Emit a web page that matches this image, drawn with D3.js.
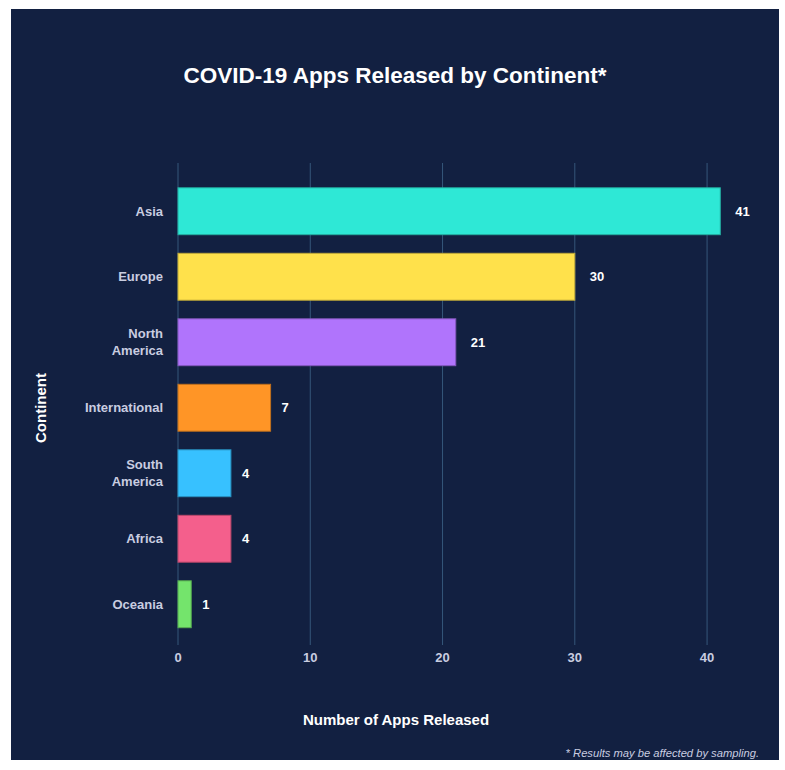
<!DOCTYPE html>
<html><head><meta charset="utf-8">
<script src="https://cdn.jsdelivr.net/npm/d3@7"></script>
<style>
html,body{margin:0;padding:0;background:#fff;}
svg{display:block;font-family:"Liberation Sans",Arial,Helvetica,sans-serif;}
</style></head>
<body>
<svg id="chart" width="785" height="770"></svg>
<script>
const categories = ["Asia","Europe","North America","International","South America","Africa","Oceania"];
const values = [41,30,21,7,4,4,1];
const barColors = ["#2ee8d6","#ffe14b","#b074fc","#ff9526","#37c1ff","#f45f8c","#74e46c"];
const tickValues = [0,10,20,30,40];
const labelLines = {"North America":["North","America"],"South America":["South","America"]};

const svg = d3.select("#chart");
svg.append("rect").attr("x",11).attr("y",9).attr("width",768).attr("height",751).attr("fill","#122041");

const x = d3.scaleLinear().domain([0,41]).range([178,720.3]);
const y = d3.scaleBand().domain(categories).range([178.5,637]).paddingInner(0.284).paddingOuter(0.142);

// gridlines
svg.append("g").selectAll("line").data(tickValues).join("line")
  .attr("x1",d=>x(d)).attr("x2",d=>x(d)).attr("y1",163).attr("y2",645)
  .attr("stroke","#35567a").attr("stroke-width",1);

// tick labels
svg.append("g").selectAll("text").data(tickValues).join("text")
  .attr("x",d=>x(d)).attr("y",662).attr("text-anchor","middle")
  .attr("fill","#c9cde0").attr("font-size",13).attr("font-weight","bold").text(d=>d);

// bars
const data = categories.map((c,i)=>({c,v:values[i],col:barColors[i]}));
svg.append("g").selectAll("rect").data(data).join("rect")
  .attr("x",x(0)).attr("y",d=>y(d.c)).attr("width",d=>x(d.v)-x(0)).attr("height",y.bandwidth())
  .attr("fill",d=>d.col).attr("stroke",d=>d3.color(d.col).darker(0.8)).attr("stroke-width",1);

// value labels
svg.append("g").selectAll("text").data(data).join("text")
  .attr("x",d=>x(d.v)+(String(d.v).length>1?15:11)).attr("y",d=>y(d.c)+y.bandwidth()/2).attr("dy","0.35em")
  .attr("fill","#ffffff").attr("font-size",13).attr("font-weight","bold").text(d=>d.v);

// category labels
const cl = svg.append("g").selectAll("text").data(data).join("text")
  .attr("x",163).attr("y",d=>y(d.c)+y.bandwidth()/2).attr("text-anchor","end")
  .attr("fill","#c9cde0").attr("font-size",13).attr("font-weight","bold");
cl.each(function(d){
  const lines = labelLines[d.c] || [d.c];
  const t = d3.select(this);
  const off = (lines.length-1)*-0.65;
  lines.forEach((l,i)=>{
    t.append("tspan").attr("x",163).attr("dy", i===0 ? (off+0.35)+"em" : "1.3em").text(l);
  });
});

// title
svg.append("text").attr("x",395).attr("y",83).attr("text-anchor","middle")
  .attr("fill","#ffffff").attr("font-size",22.5).attr("font-weight","bold")
  .text("COVID-19 Apps Released by Continent*");

// axis titles
svg.append("text").attr("x",396).attr("y",725).attr("text-anchor","middle")
  .attr("fill","#ffffff").attr("font-size",15).attr("font-weight","bold").text("Number of Apps Released");
svg.append("text").attr("transform","translate(46,408) rotate(-90)").attr("text-anchor","middle")
  .attr("fill","#ffffff").attr("font-size",15).attr("font-weight","bold").text("Continent");

// footnote
svg.append("text").attr("x",759).attr("y",757).attr("text-anchor","end")
  .attr("fill","#c9cde0").attr("font-size",11.2).attr("font-style","italic")
  .text("* Results may be affected by sampling.");
</script>
</body></html>
